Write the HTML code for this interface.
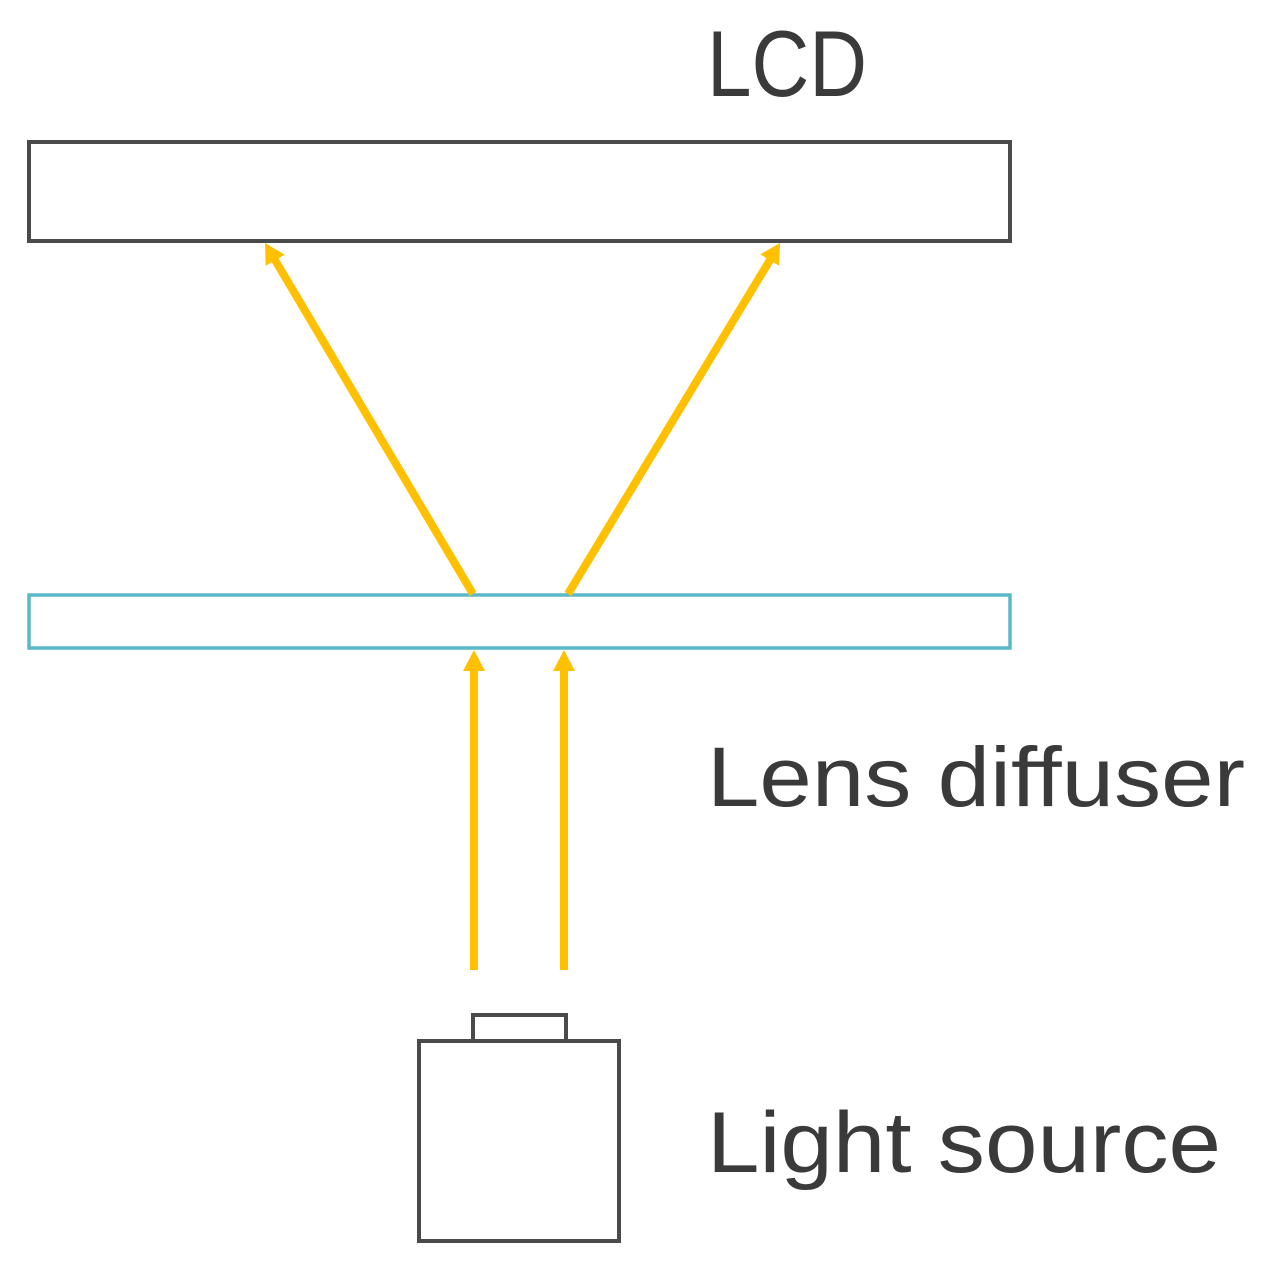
<!DOCTYPE html>
<html><head><style>html,body{margin:0;padding:0;background:#fff;}svg{display:block;}</style></head>
<body>
<svg width="1269" height="1272" viewBox="0 0 1269 1272" xmlns="http://www.w3.org/2000/svg">
<rect x="29" y="142" width="981" height="99" fill="#fff" stroke="#4a4a4a" stroke-width="4"/>
<rect x="29" y="595" width="981" height="53" fill="#fff" stroke="#5bb8c8" stroke-width="3.5"/>
<g stroke="#FFC000" stroke-width="8" fill="none">
<line x1="473" y1="594" x2="275" y2="260"/>
<line x1="568" y1="594" x2="770" y2="260"/>
<line x1="474" y1="970" x2="474" y2="668"/>
<line x1="564" y1="970" x2="564" y2="668"/>
</g>
<g fill="#FFC000">
<polygon points="265,243 284.7,254.6 265.7,265.8"/>
<polygon points="780,243 779.1,265.8 760.3,254.4"/>
<polygon points="474,650 485,671 463,671"/>
<polygon points="564,650 575,671 553,671"/>
</g>
<rect x="473" y="1015" width="93" height="26" fill="#fff" stroke="#4a4a4a" stroke-width="4"/>
<rect x="419" y="1041" width="200" height="200" fill="#fff" stroke="#4a4a4a" stroke-width="4"/>
<g font-family="Liberation Sans, sans-serif" fill="#3a3a3a">
<text x="707" y="96" font-size="94" textLength="160" lengthAdjust="spacingAndGlyphs">LCD</text>
<text x="707" y="806" font-size="84" textLength="538" lengthAdjust="spacingAndGlyphs">Lens diffuser</text>
<text x="707" y="1172" font-size="86" textLength="514" lengthAdjust="spacingAndGlyphs">Light source</text>
</g>
</svg>
</body></html>
